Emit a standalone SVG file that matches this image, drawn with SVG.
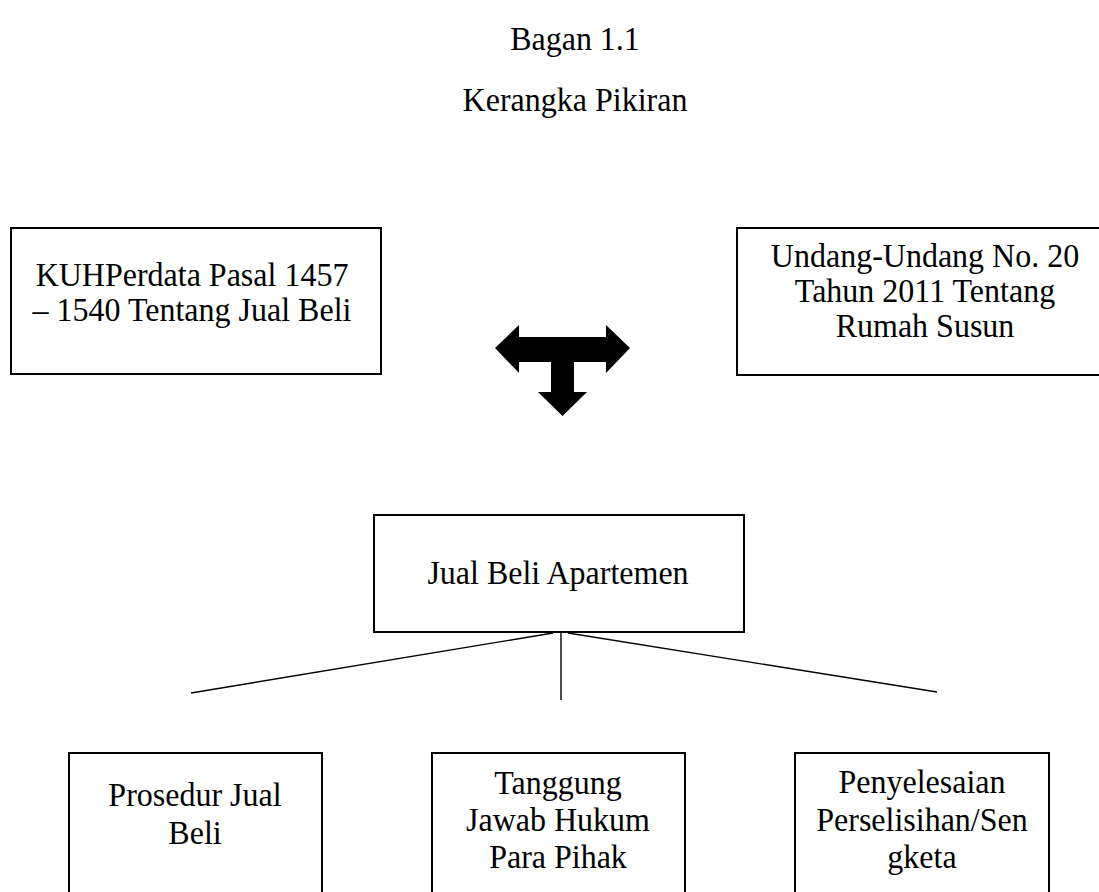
<svg xmlns="http://www.w3.org/2000/svg" width="1099" height="892" viewBox="0 0 1099 892">
<style>
.box{fill:#fff;stroke:#000;stroke-width:2}
.t{font-family:"Liberation Serif","Times New Roman",serif;font-size:32px;fill:#000;text-anchor:middle}
.c{stroke:#000;stroke-width:1.4;fill:none}
</style>
<rect width="1099" height="892" fill="#fff"/>
<g id="title">
<text class="t" transform="translate(575 50) scale(1 1.08)">Bagan 1.1</text>
<text class="t" transform="translate(575 111) scale(1 1.08)">Kerangka Pikiran</text>
</g>
<g id="node-kuhperdata">
<rect class="box" x="11" y="228" width="370" height="146"/>
<text class="t" transform="translate(192 286) scale(1 1.08)">KUHPerdata Pasal 1457</text>
<text class="t" transform="translate(192 321) scale(1 1.08)">– 1540 Tentang Jual Beli</text>
</g>
<g id="node-uu">
<rect class="box" x="737" y="228" width="380" height="147"/>
<text class="t" transform="translate(925 267) scale(1 1.08)">Undang-Undang No. 20</text>
<text class="t" transform="translate(925 302) scale(1 1.08)">Tahun 2011 Tentang</text>
<text class="t" transform="translate(925 337) scale(1 1.08)">Rumah Susun</text>
</g>
<g id="arrow-t">
<polygon fill="#000" points="495,348 519,325 519,337 606,337 606,325 630,348 606,373 606,362 574,362 574,392 587,392 562.5,416 538,392 551,392 551,362 519,362 519,373"/>
</g>
<g id="node-jual-beli">
<rect class="box" x="374" y="515" width="370" height="117"/>
<text class="t" transform="translate(558 584) scale(1 1.08)">Jual Beli Apartemen</text>
</g>
<g id="connectors">
<line class="c" x1="553" y1="633" x2="191" y2="693"/>
<line class="c" x1="561" y1="633" x2="561" y2="700" stroke="#555"/>
<line class="c" x1="568" y1="633" x2="937" y2="692"/>
</g>
<g id="node-prosedur">
<rect class="box" x="69" y="753" width="253" height="160"/>
<text class="t" transform="translate(195 806) scale(1 1.08)">Prosedur Jual</text>
<text class="t" transform="translate(195 844) scale(1 1.08)">Beli</text>
</g>
<g id="node-tanggung">
<rect class="box" x="432" y="753" width="253" height="160"/>
<text class="t" transform="translate(558 794) scale(1 1.08)">Tanggung</text>
<text class="t" transform="translate(558 831) scale(1 1.08)">Jawab Hukum</text>
<text class="t" transform="translate(558 868) scale(1 1.08)">Para Pihak</text>
</g>
<g id="node-penyelesaian">
<rect class="box" x="795" y="753" width="254" height="160"/>
<text class="t" transform="translate(922 793) scale(1 1.08)">Penyelesaian</text>
<text class="t" transform="translate(922 831) scale(1 1.08)">Perselisihan/Sen</text>
<text class="t" transform="translate(922 868) scale(1 1.08)">gketa</text>
</g>
</svg>
